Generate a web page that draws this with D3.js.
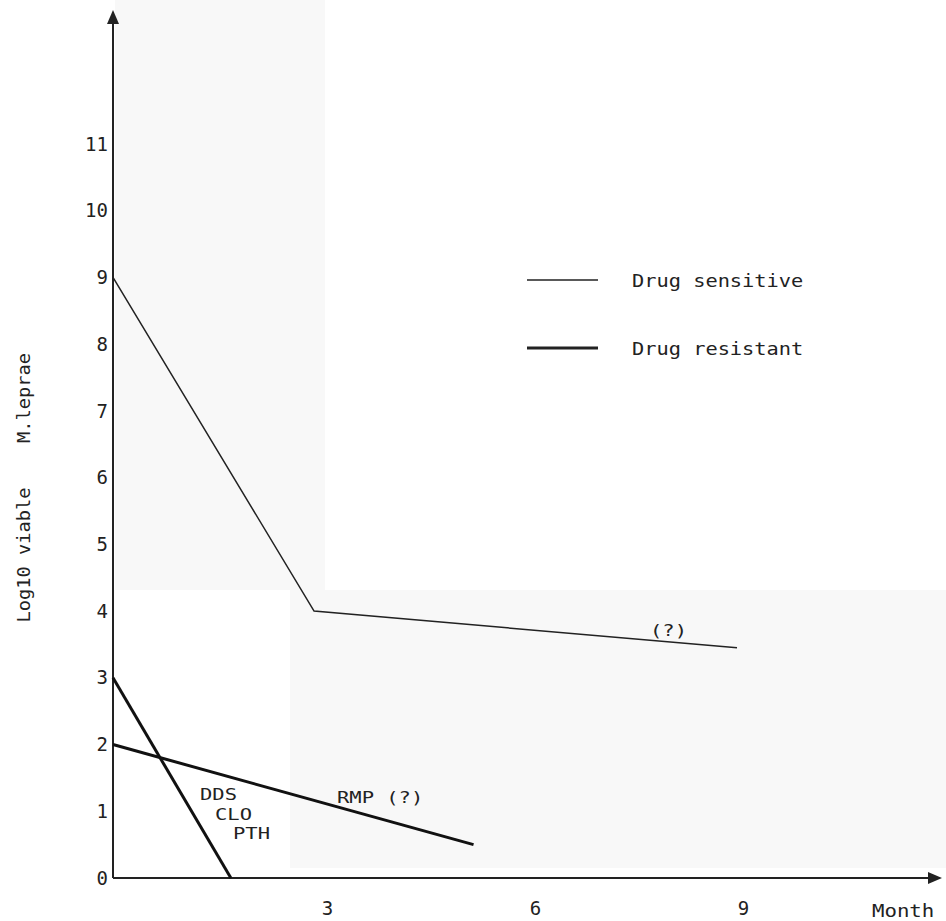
<!DOCTYPE html>
<html>
  <head>
    <meta http-equiv="Content-Type" content="text/html; charset=UTF-8" />
    <title>M.leprae kill curves</title>
    <script src="https://cdn.jsdelivr.net/npm/d3@7/dist/d3.min.js"></script>
    <style>
      body { margin: 0; background: #ffffff; }
      text { font-family: 'DejaVu Sans Mono', monospace; fill: #222222; }
    </style>
  </head>
  <body>
    <svg width="946" height="921" id="mainsvg"></svg>
    <script>
        // data
        const yTicks = [0, 1, 2, 3, 4, 5, 6, 7, 8, 9, 10, 11];
        const xTicks = [3, 6, 9];
        const sensitiveMonths = [0, 2.9, 9];
        const sensitiveLog = [9, 4, 3.45];
        const ddsMonths = [0, 1.7];
        const ddsLog = [3, 0];
        const rmpMonths = [0, 5.2];
        const rmpLog = [2, 0.5];
        const legendNames = ['Drug sensitive', 'Drug resistant'];
        const legendWidths = [1.5, 3];

        const svg = d3.select('#mainsvg');
        const x0 = 113, y0 = 878;
        const font = "'DejaVu Sans Mono', monospace";

        const xScale = d3.scaleLinear().domain([0, 9]).range([x0, 737]);
        const yScale = d3.scaleLinear().domain([0, 11]).range([y0, 144]);

        // faint show-through of the printed page behind the chart
        svg.append('rect').attr('x', 115).attr('y', 0).attr('width', 210).attr('height', 590).attr('fill', '#f8f8f8');
        svg.append('rect').attr('x', 290).attr('y', 590).attr('width', 656).attr('height', 278).attr('fill', '#f8f8f8');

        // axes (no tick marks, just labels)
        const yAxis = d3.axisLeft(yScale).tickValues(yTicks).tickSize(0).tickPadding(5);
        const yg = svg.append('g').attr('transform', `translate(${x0},0)`).call(yAxis);
        yg.select('.domain').remove();
        yg.selectAll('text').attr('font-size', 19).attr('font-family', font).attr('fill', '#222');

        const xAxis = d3.axisBottom(xScale).tickValues(xTicks).tickSize(0).tickPadding(24);
        const xg = svg.append('g').attr('transform', `translate(6,${y0})`).call(xAxis);
        xg.select('.domain').remove();
        xg.selectAll('text').attr('font-size', 19).attr('font-family', font).attr('fill', '#222');

        // axis lines with arrow heads
        svg.append('line').attr('x1', x0).attr('y1', y0).attr('x2', x0).attr('y2', 20)
          .attr('stroke', '#222').attr('stroke-width', 2);
        svg.append('path').attr('d', `M${x0},10 L${x0 - 6},24 L${x0 + 6},24 Z`).attr('fill', '#222');
        svg.append('line').attr('x1', x0).attr('y1', y0).attr('x2', 932).attr('y2', y0)
          .attr('stroke', '#222').attr('stroke-width', 2);
        svg.append('path').attr('d', `M942,${y0} L928,${y0 - 6} L928,${y0 + 6} Z`).attr('fill', '#222');

        svg.append('text').attr('transform', 'translate(872,917) scale(1.15,1)')
          .attr('font-size', 18).text('Month');

        // y label, rotated
        svg.append('text').attr('transform', 'translate(30,555) rotate(-90) scale(1.1,1)')
          .attr('text-anchor', 'middle').attr('font-size', 17).text('Log10 viable');
        svg.append('text').attr('transform', 'translate(30,398) rotate(-90) scale(1.1,1)')
          .attr('text-anchor', 'middle').attr('font-size', 17).text('M.leprae');

        const line = d3.line().x(d => xScale(d[0])).y(d => yScale(d[1]));
        const zip = (a, b) => a.map((v, i) => [v, b[i]]);

        svg.append('path').datum(zip(sensitiveMonths, sensitiveLog)).attr('d', line)
          .attr('fill', 'none').attr('stroke', '#222').attr('stroke-width', 1.5);
        svg.append('path').datum(zip(ddsMonths, ddsLog)).attr('d', line)
          .attr('fill', 'none').attr('stroke', '#111').attr('stroke-width', 3);
        svg.append('path').datum(zip(rmpMonths, rmpLog)).attr('d', line)
          .attr('fill', 'none').attr('stroke', '#111').attr('stroke-width', 3);

        // annotations: text, left x, baseline y (glyphs stretched wide like the original bitmap font)
        const ann = [['(?)', 650, 636], ['DDS', 200, 800], ['CLO', 215, 820], ['PTH', 233, 839], ['RMP (?)', 337, 803]];
        svg.selectAll('.ann').data(ann).enter().append('text')
          .attr('class', 'ann').attr('transform', d => `translate(${d[1]},${d[2]}) scale(1.28,1)`)
          .attr('font-size', 16).text(d => d[0]);

        // legend
        const legend = svg.selectAll('.legend').data(legendNames).enter().append('g')
          .attr('class', 'legend')
          .attr('transform', (d, i) => `translate(527,${280 + i * 68})`);
        legend.append('line').attr('x1', 0).attr('x2', 71).attr('y1', 0).attr('y2', 0)
          .attr('stroke', '#222').attr('stroke-width', (d, i) => legendWidths[i]);
        legend.append('text').attr('transform', 'translate(105,7) scale(1.13,1)').attr('font-size', 18)
          .text(d => d);
    </script>
  </body>
</html>
